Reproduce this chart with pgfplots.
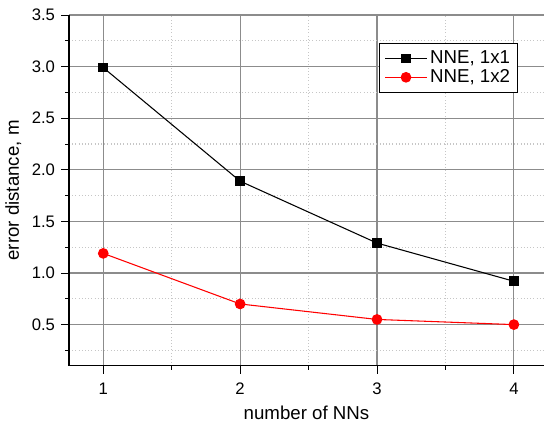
\documentclass[border=0pt]{standalone}
\usepackage{pgfplots}
\pgfplotsset{compat=1.18}
\usepackage{fontspec}
\setmainfont{Liberation Sans}
\usetikzlibrary{calc}
\begin{document}
\begin{tikzpicture}
\begin{axis}[
  name=ax,
  scale only axis,
  width=356pt, height=263pt,
  xmin=0.75, xmax=4.22,
  ymin=0.1, ymax=3.5,
  axis x line*=bottom, axis y line*=left,
  xtick={1,2,3,4},
  minor xtick={1.5,2.5,3.5},
  ytick={0.5,1.0,1.5,2.0,2.5,3.0,3.5},
  minor ytick={0.25,0.75,1.25,1.75,2.25,2.75,3.25},
  yticklabel style={xshift=-1pt, /pgf/number format/.cd,fixed,fixed zerofill,precision=1},
  /pgf/number format/assume math mode=true,
  tick align=outside,
  major tick length=6pt, minor tick length=3pt,
  tick style={black, line width=0.6pt},
  axis line style={black, line width=0.9pt},
  grid=both,
  major grid style={gray!90, line width=0.9pt},
  minor grid style={gray!45, dotted, line width=0.8pt},
  ticklabel style={font=\fontsize{12.5}{14}\selectfont},
  xticklabel style={yshift=-3pt},
  label style={font=\fontsize{14}{16}\selectfont},
  xlabel={number of NNs},
  ylabel={error distance, m},
  xlabel style={yshift=-2pt},
  ylabel style={yshift=1pt},
  legend style={at={(0.945,0.92)}, anchor=north east, draw=black, line width=0.8pt,
    font=\fontsize{14}{16}\selectfont, cells={anchor=west}, inner sep=3.5pt, row sep=-1pt},
  legend image code/.code={\draw[mark repeat=2,mark phase=2] plot coordinates {(0cm,0cm) (0.55cm,0cm) (1.1cm,0cm)};},
  legend image post style={line width=0.8pt},
]
\addplot[black, line width=0.8pt, mark=square*, mark size=3.2pt] coordinates {(1,2.99) (2,1.89) (3,1.29) (4,0.92)};
\addlegendentry{NNE, 1x1}
\addplot[red, line width=0.8pt, mark=*, mark size=3.6pt] coordinates {(1,1.19) (2,0.70) (3,0.55) (4,0.50)};
\addlegendentry{NNE, 1x2}
\end{axis}
\pgfresetboundingbox
\path[use as bounding box] ($(ax.south west)+(-51.75pt,-43.5pt)$) rectangle ($(ax.north east)+(0pt,11.25pt)$);
\end{tikzpicture}
\end{document}
